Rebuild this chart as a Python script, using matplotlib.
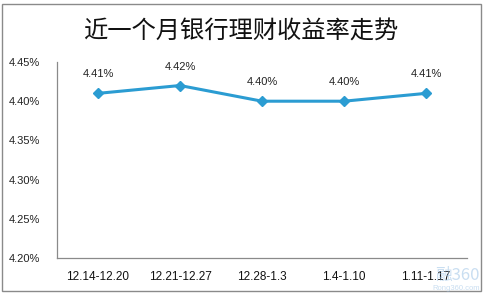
import matplotlib
matplotlib.use('Agg')
import matplotlib.pyplot as plt
from matplotlib.patches import Rectangle

plt.rcParams['font.family'] = ['Liberation Sans', 'Noto Sans CJK SC', 'DejaVu Sans']

# data
categories = ["12.14-12.20", "12.21-12.27", "12.28-1.3", "1.4-1.10", "1.11-1.17"]
rates = [4.41, 4.42, 4.40, 4.40, 4.41]
y_ticks = [4.20, 4.25, 4.30, 4.35, 4.40, 4.45]
title = "近一个月银行理财收益率走势"

line_color = "#2b9cd2"

fig = plt.figure(figsize=(4.85, 2.96), dpi=100)
fig.patch.set_facecolor("white")

# outer frame
fig.add_artist(Rectangle((2 / 485, 5 / 296), 479 / 485, 287 / 296,
                         transform=fig.transFigure, fill=False,
                         edgecolor="#8a8a8a", linewidth=1.0))

ax = fig.add_axes([57 / 485, 38 / 296, 410 / 485, 196 / 296])
x = list(range(len(categories)))
ax.plot(x, rates, color=line_color, linewidth=2.2, marker="D",
        markersize=5, markerfacecolor=line_color, markeredgecolor=line_color)

for xi, v in zip(x, rates):
    ax.annotate(f"{v:.2f}%", (xi, v), xytext=(0, 10), textcoords="offset points",
                ha="center", va="bottom", fontsize=8, color="#222222")

ax.set_xlim(-0.5, len(categories) - 0.5)
ax.set_ylim(4.20, 4.45)
ax.set_yticks(y_ticks)
ax.set_yticklabels([f"{t:.2f}%" for t in y_ticks], fontsize=8, color="#222222")
ax.set_xticks(x)
ax.set_xticklabels(categories, fontsize=8.5, color="#111111")
ax.tick_params(axis="both", length=0)
ax.tick_params(axis="y", pad=12)
ax.tick_params(axis="x", pad=9)

for side in ["top", "right"]:
    ax.spines[side].set_visible(False)
for side in ["left", "bottom"]:
    ax.spines[side].set_color("#8a8a8a")
    ax.spines[side].set_linewidth(0.9)

fig.text(241 / 485, 1 - 31 / 296, title, ha="center", va="center",
         fontsize=17.5, fontweight="medium", family=["Noto Sans CJK SC"], color="#111111")

# watermark
fig.text(480 / 485, 1 - 275 / 296, "融360", ha="right", va="center",
         fontsize=12, color="#9dc3e6", alpha=0.55, family=["Noto Sans CJK SC"])
fig.text(480 / 485, 1 - 289 / 296, "Rong360.com", ha="right", va="center",
         fontsize=5.5, color="#9dc3e6", alpha=0.55)

fig.savefig("out.png", dpi=100)
plt.close(fig)
